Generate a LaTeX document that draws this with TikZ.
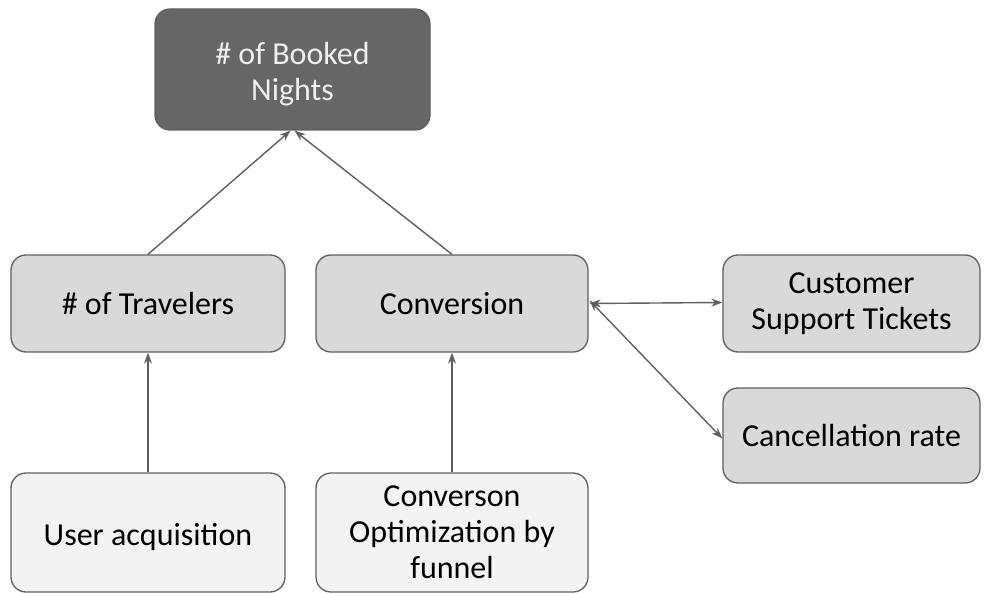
\documentclass[tikz,border=0pt]{standalone}
\usepackage{fontspec}
\setmainfont{Carlito}
\usetikzlibrary{arrows.meta}
\definecolor{edgegray}{HTML}{5F5F5F}
\definecolor{topfill}{HTML}{666666}
\definecolor{topink}{HTML}{EFEFEF}
\definecolor{midfill}{HTML}{D9D9D9}
\definecolor{lowfill}{HTML}{F3F3F3}
\newcommand{\lowered}[1]{\raisebox{-6pt}[\height][\depth]{\begin{tabular}{@{}c@{}}#1\end{tabular}}}
\tikzset{
  metric/.style={draw=edgegray, line width=1.3pt, rounded corners=15pt, align=center,
    inner sep=0pt, font=\fontsize{32}{36}\selectfont},
  topbox/.style={metric, fill=topfill, text=topink},
  midbox/.style={metric, fill=midfill},
  lowbox/.style={metric, fill=lowfill},
  link/.style={draw=edgegray, line width=1.4pt, -{Stealth[length=11pt,width=8pt]}},
  twolink/.style={link, {Stealth[length=11pt,width=8pt]}-{Stealth[length=11pt,width=8pt]}}
}
\begin{document}
\begin{tikzpicture}[x=1pt,y=-1pt]
  %%%%% FRAME %%%%%
  \useasboundingbox (0,0) rectangle (990,593);

  %%%%% BOXES %%%%%
  \node[topbox, minimum width=275pt, minimum height=121pt] (nights) at (292.5,69.5) {\lowered{\# of Booked\\Nights}};

  \node[midbox, minimum width=274pt, minimum height=97pt] (travelers) at (148,303.5) {\# of Travelers};
  \node[midbox, minimum width=272pt, minimum height=97pt] (conversion) at (452,303.5) {Conversion};
  \node[midbox, minimum width=257pt, minimum height=97pt] (tickets) at (851.5,303.5) {Customer\\Support Tickets};
  \node[midbox, minimum width=257pt, minimum height=95pt] (cancel) at (851.5,435.5) {Cancellation rate};

  \node[lowbox, minimum width=274pt, minimum height=119pt] (acquisition) at (148,532.5) {\lowered{User acquisition}};
  \node[lowbox, minimum width=272pt, minimum height=119pt] (funnel) at (452,532.5) {Converson\\Optimization by\\funnel};

  %%%%% LINKS %%%%%
  \draw[link] (travelers.north) -- ([xshift=-2pt]nights.south);
  \draw[link] (conversion.north) -- ([xshift=2pt]nights.south);
  \draw[link] (acquisition.north) -- (travelers.south);
  \draw[link] (funnel.north) -- (conversion.south);
  \draw[twolink] ([xshift=1pt]conversion.east) -- ([yshift=1pt]tickets.west);
  \draw[twolink] ([xshift=1pt,yshift=3pt]conversion.east) -- ([yshift=-3pt]cancel.west);
\end{tikzpicture}
\end{document}
